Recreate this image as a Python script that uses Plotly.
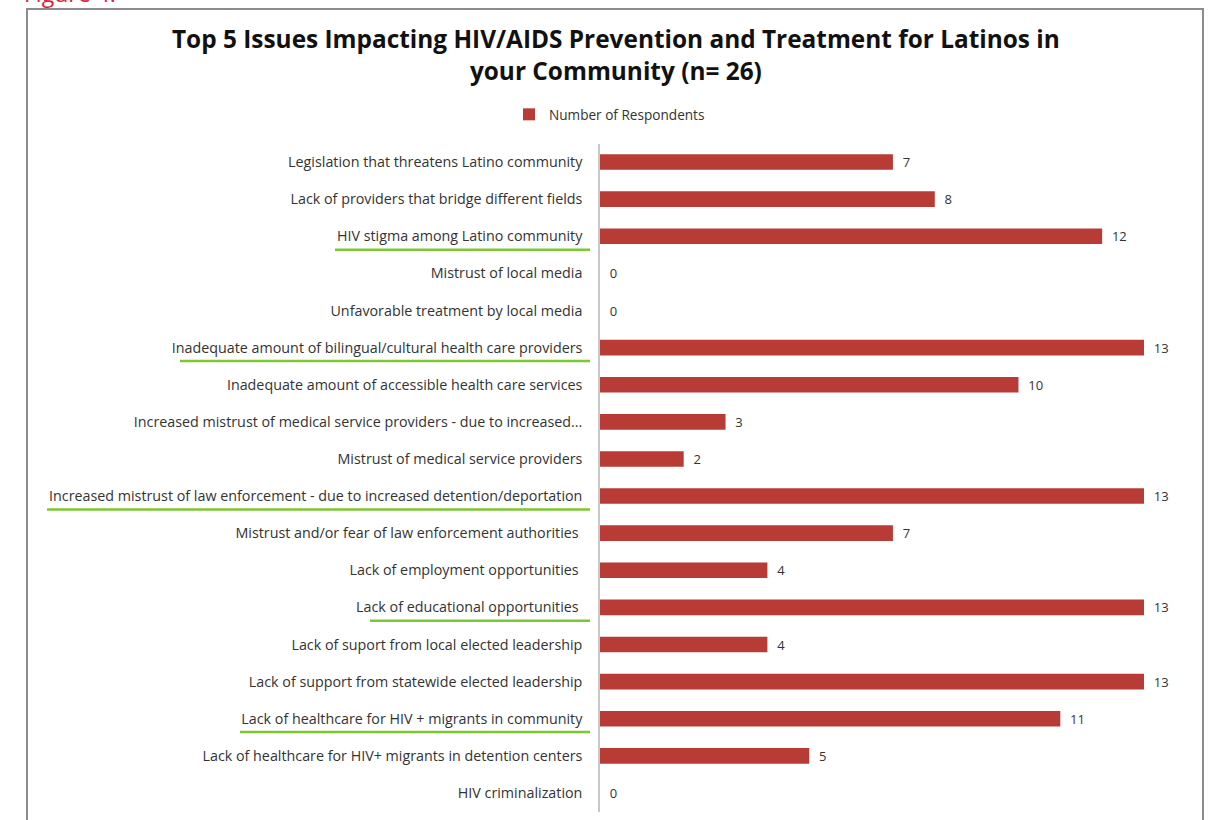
import plotly.graph_objects as go

categories = [
    "Legislation that threatens Latino community",
    "Lack of providers that bridge different fields",
    "HIV stigma among Latino community",
    "Mistrust of local media",
    "Unfavorable treatment by local media",
    "Inadequate amount of bilingual/cultural health care providers",
    "Inadequate amount of accessible health care services",
    "Increased mistrust of medical service providers - due to increased...",
    "Mistrust of medical service providers",
    "Increased mistrust of law enforcement - due to increased detention/deportation",
    "Mistrust and/or fear of law enforcement authorities ",
    "Lack of employment opportunities ",
    "Lack of educational opportunities ",
    "Lack of suport from local elected leadership",
    "Lack of support from statewide elected leadership",
    "Lack of healthcare for HIV + migrants in community",
    "Lack of healthcare for HIV+ migrants in detention centers",
    "HIV criminalization",
]
respondents = [7, 8, 12, 0, 0, 13, 10, 3, 2, 13, 7, 4, 13, 4, 13, 11, 5, 0]
series_name = "Number of Respondents"
title_lines = ["Top 5 Issues Impacting HIV/AIDS Prevention and Treatment for Latinos in",
               "your Community (n= 26)"]
# top 5 issues, underlined in green (label, approx underline left edge in px)
highlights = {
    "HIV stigma among Latino community": 335,
    "Inadequate amount of bilingual/cultural health care providers": 180,
    "Increased mistrust of law enforcement - due to increased detention/deportation": 47,
    "Lack of educational opportunities ": 370,
    "Lack of healthcare for HIV + migrants in community": 240,
}

W, H = 1219, 820
FONT = "Open Sans"
BAR = "#B83C35"
LBL = 14.3

fig = go.Figure()
fig.add_trace(go.Bar(
    y=categories, x=respondents, orientation="h", name=series_name,
    marker=dict(color=BAR, line=dict(width=0)),
    text=respondents, texttemplate="  %{x}", textposition="outside", cliponaxis=False,
    constraintext="none",
    textfont=dict(family=FONT, size=13, color="#333333"),
    showlegend=True,
))

px_left, px_right = 600, 1180
py_top, py_bot = 143.5, 811.5

shapes = []
# chart border
shapes.append(dict(type="rect", xref="paper", yref="paper",
                   x0=27 / W, x1=1203 / W, y0=-0.05, y1=1 - 9 / H,
                   line=dict(color="#8c8c8c", width=2), fillcolor="rgba(0,0,0,0)", layer="below"))
for i, c in enumerate(categories):
    if c in highlights:
        shapes.append(dict(type="line", xref="paper", yref="y",
                           x0=highlights[c] / W, x1=590 / W, y0=i + 0.36, y1=i + 0.36,
                           line=dict(color="#7DC832", width=2.5)))

fig.update_layout(
    width=W, height=H,
    margin=dict(l=0, r=0, t=0, b=0),
    paper_bgcolor="white", plot_bgcolor="white",
    bargap=0.58,
    font=dict(family=FONT, size=LBL, color="#333333"),
    xaxis=dict(domain=[px_left / W, px_right / W], range=[0, 13.86], fixedrange=True,
               showgrid=False, zeroline=False, showticklabels=False, showline=False, ticks=""),
    yaxis=dict(domain=[1 - py_bot / H, 1 - py_top / H], autorange="reversed", fixedrange=True,
               showgrid=False, zeroline=False, showline=True, linecolor="#c8c8c8", linewidth=1.5,
               ticks="outside", ticklen=13, tickcolor="rgba(0,0,0,0)",
               tickfont=dict(family=FONT, size=LBL, color="#333333")),
    legend=dict(orientation="h", x=509 / W, y=1 - 99 / H, xanchor="left", yanchor="top",
                font=dict(family=FONT, size=13.6, color="#333333"), itemwidth=30,
                bgcolor="rgba(0,0,0,0)"),
    shapes=shapes,
    annotations=[
        dict(text="<b>" + title_lines[0] + "<br>" + title_lines[1] + "</b>",
             xref="paper", yref="paper", x=616 / W, y=1 - 20 / H, xanchor="center", yanchor="top",
             showarrow=False, font=dict(family=FONT, size=24.4, color="#111111")),
        dict(text="Figure 4.", xref="paper", yref="paper", x=22 / W, y=1 - 11 / H,
             xanchor="left", yanchor="bottom", showarrow=False,
             font=dict(family=FONT, size=23, color="#E0203A")),
    ],
)

fig.write_html("out.html", config={"displayModeBar": False},
               post_script="document.body.style.margin='0';")
